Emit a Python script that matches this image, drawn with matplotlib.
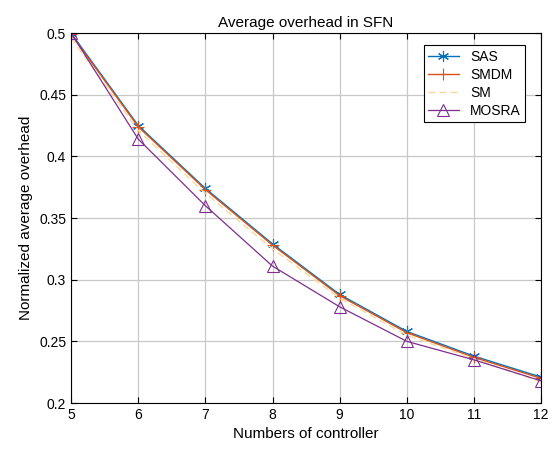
import numpy as np
import matplotlib.pyplot as plt

plt.rcParams['font.family'] = ['Liberation Sans', 'DejaVu Sans']

controllers = [5, 6, 7, 8, 9, 10, 11, 12]
sas = [0.500, 0.425, 0.374, 0.329, 0.288, 0.258, 0.238, 0.221]
smdm = [0.499, 0.424, 0.373, 0.328, 0.287, 0.257, 0.237, 0.220]
sm = [0.496, 0.421, 0.370, 0.325, 0.285, 0.255, 0.236, 0.217]
mosra = [0.500, 0.414, 0.360, 0.311, 0.278, 0.250, 0.235, 0.218]

fig = plt.figure(figsize=(5.55, 4.49), dpi=100)
ax = fig.add_axes([0.128, 0.1024, 0.847, 0.8241])

ax.plot(controllers, sas, color='#0072BD', lw=1, marker=(6, 2, 0), ms=8, mew=0.8, label='SAS')
ax.plot(controllers, smdm, color='#D95319', lw=1, marker='+', ms=8, mew=0.8, label='SMDM')
ax.plot(controllers, sm, color='#F8D89A', lw=1, ls=(0, (5, 3)), label='SM')
ax.plot(controllers, mosra, color='#7E2F8E', lw=0.9, marker='^', ms=8, mfc='none', mew=0.8, label='MOSRA')

ax.set_xlim(5, 12)
ax.set_ylim(0.2, 0.5)
ax.set_xticks(controllers)
ax.set_yticks([0.2, 0.25, 0.3, 0.35, 0.4, 0.45, 0.5])
ax.set_yticklabels(['0.2', '0.25', '0.3', '0.35', '0.4', '0.45', '0.5'])
ax.grid(True, color='#c8c8c8', lw=0.9)
ax.tick_params(direction='in', labelsize=10, length=4, top=True, right=True)
for s in ax.spines.values():
    s.set_linewidth(0.8)

ax.set_title('Average overhead in SFN', fontsize=11, pad=4)
ax.set_xlabel('Numbers of controller', fontsize=11)
ax.set_ylabel('Normalized average overhead', fontsize=11)

leg = ax.legend(loc='upper right', bbox_to_anchor=(0.98, 0.985), fancybox=False,
                edgecolor='black', framealpha=1, fontsize=10, handlelength=2.2,
                borderpad=0.3, labelspacing=0.3)
leg.get_frame().set_linewidth(0.8)

fig.savefig('out.png', dpi=100)
